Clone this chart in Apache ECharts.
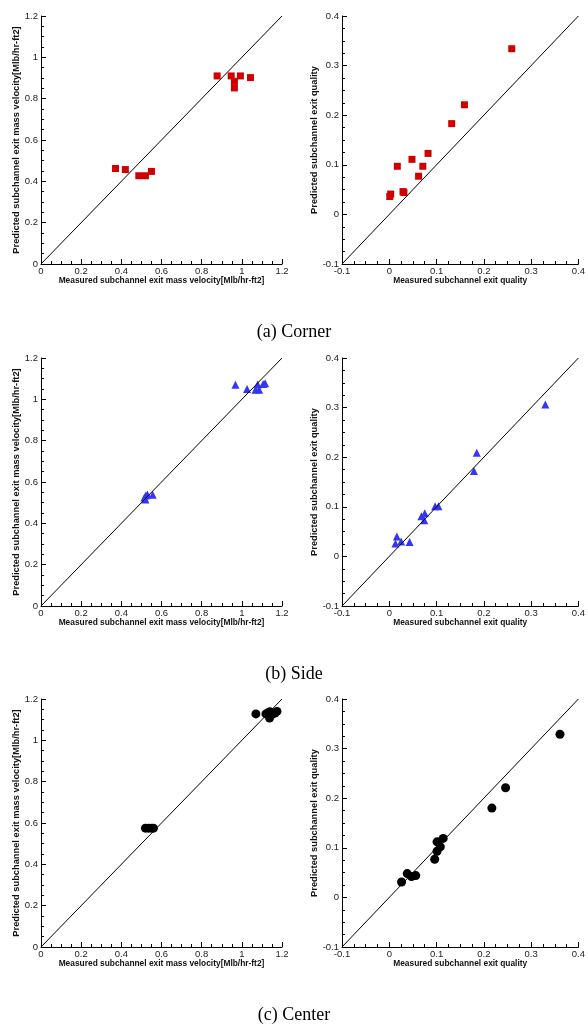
<!DOCTYPE html>
<html>
<head>
<meta charset="utf-8">
<script src="https://cdn.jsdelivr.net/npm/echarts@6/dist/echarts.min.js"></script>
<style>
  html, body { margin: 0; padding: 0; background: #fff; }
  #main { width: 588px; height: 1030px; }
</style>
</head>
<body>
<div id="main"></div>
<script>
// measured vs predicted, [measured, predicted]
var cornerMass = [[0.371, 0.462], [0.420, 0.457], [0.487, 0.427], [0.520, 0.427], [0.550, 0.448],
  [0.877, 0.910], [0.947, 0.910], [0.993, 0.910], [1.043, 0.902], [0.963, 0.884], [0.963, 0.852]]
var cornerQual = [[0.259, 0.334], [0.159, 0.221], [0.132, 0.183], [0.082, 0.123], [0.048, 0.111],
  [0.071, 0.097], [0.017, 0.097], [0.062, 0.077], [0.029, 0.046], [0.031, 0.044], [0.003, 0.041], [0.001, 0.036]]
var sideMass = [[0.968, 1.071], [1.026, 1.050], [1.068, 1.046], [1.079, 1.072], [1.086, 1.046], [1.106, 1.074],
  [1.116, 1.078], [0.515, 0.525], [0.522, 0.535], [0.530, 0.540], [0.556, 0.538], [0.520, 0.515]]
var sideQual = [[0.330, 0.306], [0.185, 0.209], [0.179, 0.172], [0.097, 0.101], [0.104, 0.101], [0.075, 0.087],
  [0.068, 0.081], [0.074, 0.073], [0.016, 0.040], [0.013, 0.026], [0.025, 0.030], [0.043, 0.029]]
var centerMass = [[1.070, 1.128], [1.120, 1.128], [1.130, 1.133], [1.140, 1.138], [1.138, 1.108], [1.150, 1.125],
  [1.165, 1.132], [1.175, 1.140], [0.520, 0.575], [0.535, 0.575], [0.550, 0.575], [0.560, 0.575]]
var centerQual = [[0.361, 0.329], [0.246, 0.221], [0.217, 0.180], [0.114, 0.119], [0.101, 0.112], [0.108, 0.102],
  [0.101, 0.093], [0.096, 0.077], [0.038, 0.048], [0.047, 0.042], [0.056, 0.044], [0.026, 0.031]]

var massRange = [0, 1.2, 0.2]
var qualRange = [-0.1, 0.4, 0.1]
var captions = ['(a) Corner', '(b) Side', '(c) Center']
var massX = 'Measured subchannel exit mass velocity[Mlb/hr-ft2]'
var massY = 'Predicted subchannel exit mass velocity[Mlb/hr-ft2]'
var qualX = 'Measured subchannel exit quality'
var qualY = 'Predicted subchannel exit quality'

var rowTops = [16, 358, 699]
var rows = [
  { data: [cornerMass, cornerQual], symbol: 'rect', size: 7, color: '#d00000' },
  { data: [sideMass, sideQual], symbol: 'triangle', size: 8, color: '#3535f5' },
  { data: [centerMass, centerQual], symbol: 'circle', size: 9, color: '#000' }
]

function axis(range, name, gridIndex, isY, gap) {
  return {
    type: 'value',
    gridIndex: gridIndex,
    min: range[0],
    max: range[1],
    interval: range[2],
    name: name,
    nameLocation: 'middle',
    nameGap: gap,
    nameTextStyle: { fontFamily: 'Liberation Sans', fontWeight: 'bold', fontSize: isY ? 9.3 : 8.4, color: '#111' },
    axisLine: { show: true, onZero: false, lineStyle: { color: '#000', width: 1 } },
    axisTick: { show: true, inside: true, length: 5, lineStyle: { color: '#000' } },
    minorTick: { show: true, splitNumber: 4, length: 3, lineStyle: { color: '#000' } },
    splitLine: { show: false },
    axisLabel: { fontFamily: 'Liberation Sans', fontSize: 9.5, color: '#222', margin: isY ? 3 : 2 }
  }
}

var grid = [], xAxis = [], yAxis = [], series = [], title = []
for (var r = 0; r < 3; r++) {
  for (var c = 0; c < 2; c++) {
    var gi = r * 2 + c
    var range = c === 0 ? massRange : qualRange
    grid.push({ left: c === 0 ? 41 : 342, top: rowTops[r], width: 241, height: 248 })
    xAxis.push(axis(range, c === 0 ? massX : qualX, gi, false, 13))
    yAxis.push(axis(range, c === 0 ? massY : qualY, gi, true, c === 0 ? 16 : 12))
    series.push({
      type: 'scatter',
      xAxisIndex: gi,
      yAxisIndex: gi,
      symbol: rows[r].symbol,
      symbolSize: rows[r].size,
      itemStyle: { color: rows[r].color, opacity: 1 },
      data: rows[r].data[c],
      z: 2
    })
    // y = x reference line
    series.push({
      type: 'line',
      xAxisIndex: gi,
      yAxisIndex: gi,
      showSymbol: false,
      silent: true,
      lineStyle: { color: '#000', width: 1 },
      data: [[range[0], range[0]], [range[1], range[1]]],
      z: 3
    })
  }
  title.push({
    text: captions[r],
    left: 'center',
    top: rowTops[r] + 302,
    textStyle: { fontFamily: 'Liberation Serif', fontWeight: 'normal', fontSize: 18, color: '#000' }
  })
}

var chart = echarts.init(document.getElementById('main'))
chart.setOption({
  animation: false,
  title: title,
  grid: grid,
  xAxis: xAxis,
  yAxis: yAxis,
  series: series
})
</script>
</body>
</html>
